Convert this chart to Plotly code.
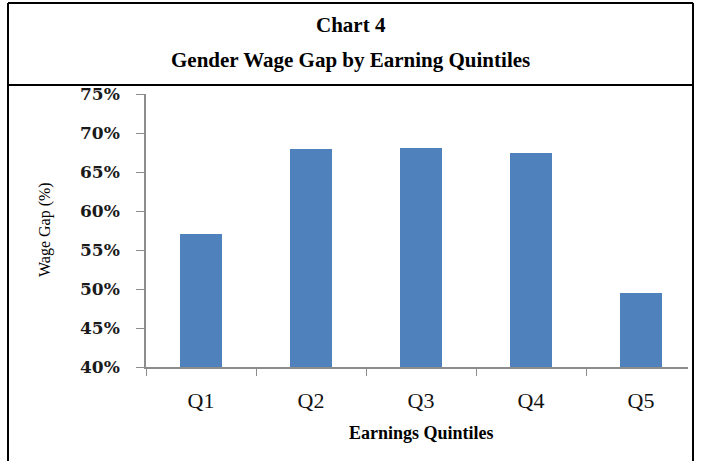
import plotly.graph_objects as go

categories = ["Q1", "Q2", "Q3", "Q4", "Q5"]
wage_gap = [0.571, 0.679, 0.681, 0.675, 0.495]
y_ticks = [0.40, 0.45, 0.50, 0.55, 0.60, 0.65, 0.70, 0.75]
y_tick_labels = ["40%", "45%", "50%", "55%", "60%", "65%", "70%", "75%"]
title_line1 = "Chart 4"
title_line2 = "Gender Wage Gap by Earning Quintiles"
x_title = "Earnings Quintiles"
y_title = "Wage Gap (%)"

W, H = 704, 461
L, R, T, B = 146, 688, 94, 367  # plot area in pixels


def px(x):
    return (x - L) / (R - L)


def py(y):
    return (B - y) / (B - T)


fig = go.Figure()
fig.add_trace(go.Bar(
    x=categories, y=wage_gap, width=0.39,
    marker=dict(color="#4F81BD", line=dict(width=0)),
    hoverinfo="skip",
))

serif = "Liberation Serif, Times New Roman, serif"

fig.update_layout(
    width=W, height=H,
    margin=dict(l=L, r=W - R, t=T, b=H - B, pad=0),
    paper_bgcolor="white", plot_bgcolor="white",
    showlegend=False,
    bargap=0,
    xaxis=dict(
        type="category",
        range=[-0.5, -0.5 + (R - L) / 110.0],
        showline=True, linecolor="#8c8c8c", linewidth=1.5,
        ticks="outside", tickson="boundaries", ticklen=7, tickcolor="#8c8c8c",
        tickwidth=1.2,
        showgrid=False, zeroline=False,
        tickfont=dict(family=serif, size=22, color="#111"),
        ticklabelstandoff=13,
    ),
    yaxis=dict(
        range=[0.40, 0.75],
        tickvals=y_ticks, ticktext=y_tick_labels,
        showline=True, linecolor="#8c8c8c", linewidth=1.5,
        ticks="outside", ticklen=8, tickcolor="#8c8c8c", tickwidth=1.2,
        showgrid=False, zeroline=False,
        tickfont=dict(family="DejaVu Serif, serif", size=17, color="#1a1a1a",
                      weight="bold"),
        ticklabelstandoff=13,
    ),
)

annotations = [
    dict(text="<b>%s</b>" % title_line1, x=px(350.5), y=py(25)),
    dict(text="<b>%s</b>" % title_line2, x=px(350.5), y=py(60)),
    dict(text="<b>%s</b>" % x_title, x=px(421), y=py(433), size=18),
    dict(text=y_title, x=px(45), y=py(230), size=16, angle=-90),
]
for a in annotations:
    fig.add_annotation(
        text=a["text"], x=a["x"], y=a["y"], xref="paper", yref="paper",
        xanchor="center", yanchor="middle", showarrow=False,
        textangle=a.get("angle", 0),
        font=dict(family=serif, size=a.get("size", 21), color="#000"),
    )

frame = dict(color="black", width=2)
shapes = [
    (8, 3, 693, 3),      # top
    (8, 3, 8, 470),      # left
    (693, 3, 693, 470),  # right
    (8, 85, 693, 85),    # separator
]
for x0, y0, x1, y1 in shapes:
    fig.add_shape(type="line", xref="paper", yref="paper",
                  x0=px(x0), y0=py(y0), x1=px(x1), y1=py(y1), line=frame)

fig.write_html("out.html")
